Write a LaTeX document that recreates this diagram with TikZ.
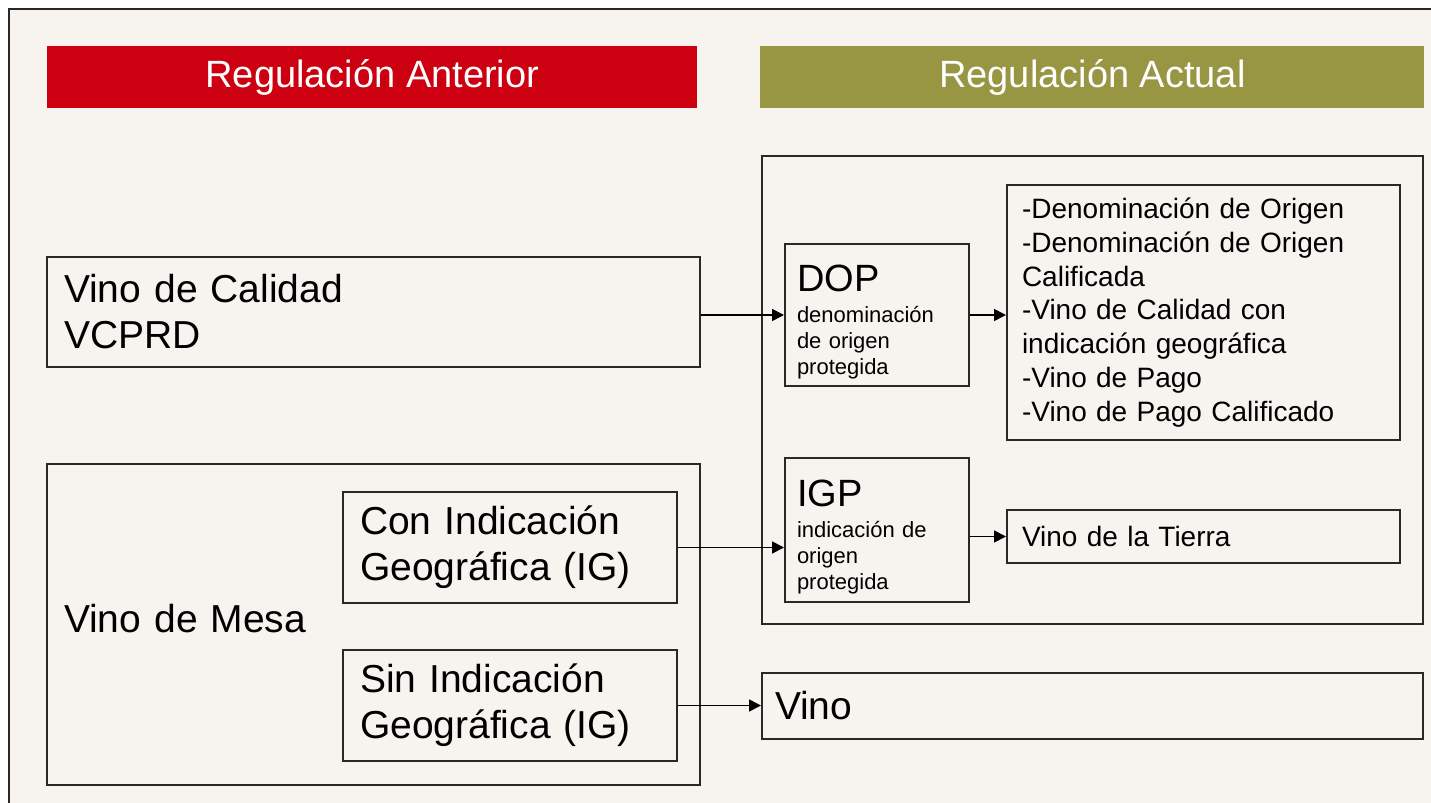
\documentclass[tikz,border=0pt]{standalone}
\usepackage{fontspec}
\setmainfont{Liberation Sans}
\usetikzlibrary{arrows.meta, positioning}
\definecolor{paper}{RGB}{247,244,239}
\definecolor{anterior}{RGB}{204,0,16}
\definecolor{actual}{RGB}{152,150,66}
\definecolor{edge}{RGB}{40,40,40}
\begin{document}
\begin{tikzpicture}[x=0.5pt, y=-0.5pt]
\tikzset{head/.style={rectangle, minimum height=31pt, inner sep=0pt, text=white, font=\fontsize{19}{23}\selectfont},
		bigbox/.style={rectangle, draw=edge, line width=1pt, align=left, inner xsep=8.5pt, inner ysep=0pt, font=\fontsize{19.5}{23}\selectfont},
		sigla/.style={rectangle, draw=edge, line width=1pt, align=left, minimum width=92pt, text width=80pt, inner xsep=6pt, inner ysep=0pt, font=\fontsize{11}{13}\selectfont},
		lista/.style={rectangle, draw=edge, line width=1pt, align=left, minimum width=196.5pt, text width=181.5pt, inner xsep=7.5pt, inner ysep=0pt, font=\fontsize{14}{16.85}\selectfont},
		conn/.style={-{Triangle[length=6pt, width=6pt]}, line width=0.85pt}}
\useasboundingbox (0,0) rectangle (1431,803);
\fill[white] (0,0) rectangle (1431,803);
\fill[paper] (9,9) rectangle (1431,803);
\draw[line width=1pt, edge] (9,803) -- (9,9) -- (1431,9);
% headers
\node[head, fill=anterior, minimum width=325pt, anchor=north west] (ant) at (47,46) {Regulación Anterior};
\node[head, fill=actual, minimum width=332pt, anchor=north west] (act) at (760,46) {Regulación Actual};
% left column
\node[bigbox, anchor=north west, minimum width=326.5pt, minimum height=55pt, text width=309.5pt] (calidad) at (46,256) {Vino de Calidad\\VCPRD};
\node[bigbox, anchor=north west, minimum width=326.5pt, minimum height=160.5pt, text width=309.5pt, text depth=6pt] (mesa) at (46,463) {Vino de Mesa};
\node[bigbox, anchor=north west, minimum width=167pt, minimum height=55.5pt, text width=150pt] (con) at (342,491) {Con Indicación\\Geográfica (IG)};
\node[bigbox, below=22.5pt of con, minimum width=167pt, minimum height=55.5pt, text width=150pt] (sin) {Sin Indicación\\Geográfica (IG)};
% right column
\node[draw=edge, line width=1pt, anchor=north west, minimum width=330.5pt, minimum height=234pt] (nueva) at (761,155) {};
\node[sigla, anchor=north west, minimum height=71pt] (dop) at (784,243) {\rule{0pt}{20pt}{\fontsize{19}{20}\selectfont DOP}\\[2.5pt]denominación\\de origen\\protegida};
\node[sigla, below=35pt of dop, minimum height=72pt] (igp) {\rule{0pt}{20pt}{\fontsize{19}{20}\selectfont IGP}\\[2.5pt]indicación de\\origen\\protegida};
\node[lista, anchor=north west, minimum height=127.5pt] (menciones) at (1006,184) {-Denominación de Origen\\-Denominación de Origen\\Calificada\\-Vino de Calidad con\\indicación geográfica\\-Vino de Pago\\-Vino de Pago Calificado};
\node[lista, anchor=north west, minimum height=26.5pt] (tierra) at (1006,509) {Vino de la Tierra};
\node[bigbox, anchor=north west, minimum width=330.5pt, minimum height=33pt, text width=317.5pt, inner xsep=6.5pt] (vino) at (761,672) {Vino};
% connectors
\draw[conn] (calidad.east |- dop.west) -- (dop.west);
\draw[conn] (dop.east) -- (dop.east -| menciones.west);
\draw[conn] (con.east) -- (con.east -| igp.west);
\draw[conn] (igp.east |- tierra.west) -- (tierra.west);
\draw[conn] (sin.east) -- (sin.east -| vino.west);
\end{tikzpicture}
\end{document}
